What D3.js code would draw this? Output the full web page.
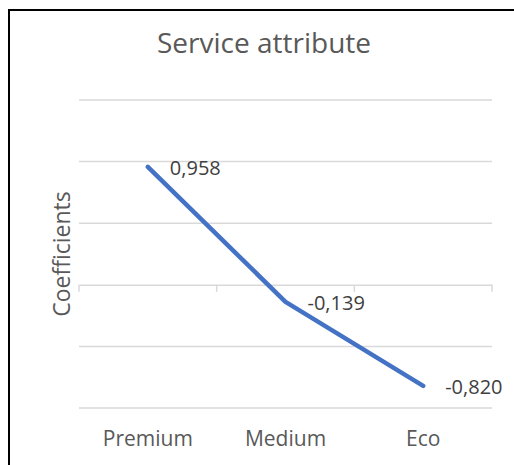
<!DOCTYPE html>
<html>
<head>
<meta charset="utf-8">
<script src="https://cdn.jsdelivr.net/npm/d3@7"></script>
<style>
  body { margin: 0; background: #fff; }
  text { font-family: "Open Sans", "Liberation Sans", sans-serif; fill: #595959; }
</style>
</head>
<body>
<div id="chart"></div>
<script>
// chart values
var categories = ['Premium', 'Medium', 'Eco'];
var coefficients = [0.958, -0.139, -0.820];
var labels = ['0,958', '-0,139', '-0,820'];
var gridValues = [1.5, 1.0, 0.5, -0.5, -1.0];

var width = 514, height = 465;
var plot = {left: 79, right: 492, top: 100, bottom: 408};

var svg = d3.select('#chart').append('svg')
    .attr('width', width)
    .attr('height', height);

// frame of the chart area (only top and left edges show)
svg.append('path')
    .attr('d', 'M9,' + height + 'V10H' + width)
    .attr('fill', 'none')
    .attr('stroke', '#000')
    .attr('stroke-width', 2);

var x = d3.scaleBand().domain(categories)
    .range([plot.left, plot.right]);
var y = d3.scaleLinear().domain([-1.0, 1.5])
    .range([plot.bottom, plot.top]);

svg.selectAll('line.grid').data(gridValues)
  .enter().append('line')
    .attr('class', 'grid')
    .attr('x1', plot.left)
    .attr('x2', plot.right)
    .attr('y1', function(d) { return y(d); })
    .attr('y2', function(d) { return y(d); })
    .attr('stroke', '#d9d9d9')
    .attr('stroke-width', 1.5);

// zero axis with tick marks at category boundaries
var axis = d3.axisBottom(x).tickSize(0).tickFormat('');
var axisG = svg.append('g')
    .attr('transform', 'translate(0,' + y(0) + ')')
    .call(axis);
axisG.select('.domain').attr('stroke', '#d9d9d9').attr('stroke-width', 1.5);
var bounds = categories.map(function(c) { return x(c); }).concat([plot.right]);
axisG.selectAll('line.bound').data(bounds)
  .enter().append('line')
    .attr('class', 'bound')
    .attr('x1', function(d) { return d; })
    .attr('x2', function(d) { return d; })
    .attr('y1', 0)
    .attr('y2', 7)
    .attr('stroke', '#d9d9d9')
    .attr('stroke-width', 1.5);

// category labels
svg.selectAll('text.cat').data(categories)
  .enter().append('text')
    .attr('class', 'cat')
    .attr('x', function(d) { return x(d) + x.bandwidth() / 2; })
    .attr('y', 446)
    .attr('text-anchor', 'middle')
    .style('font-size', '21px')
    .text(function(d) { return d; });

var cx = function(d, i) { return x(categories[i]) + x.bandwidth() / 2; };

var line = d3.line()
    .x(function(d, i) { return cx(d, i); })
    .y(function(d) { return y(d); });

svg.append('path')
    .datum(coefficients)
    .attr('d', line)
    .attr('fill', 'none')
    .attr('stroke', '#4472c4')
    .attr('stroke-width', 4.5)
    .attr('stroke-linecap', 'round')
    .attr('stroke-linejoin', 'round');

svg.selectAll('text.val').data(coefficients)
  .enter().append('text')
    .attr('class', 'val')
    .attr('x', function(d, i) { return cx(d, i) + 22; })
    .attr('y', function(d) { return y(d) + 8; })
    .style('font-size', '20px')
    .style('fill', '#404040')
    .text(function(d, i) { return labels[i]; });

svg.append('text')
    .attr('x', 264)
    .attr('y', 53)
    .attr('text-anchor', 'middle')
    .style('font-size', '28px')
    .text('Service attribute');

svg.append('text')
    .attr('transform', 'translate(70,254) rotate(-90)')
    .attr('text-anchor', 'middle')
    .style('font-size', '23px')
    .text('Coefficients');
</script>
</body>
</html>
